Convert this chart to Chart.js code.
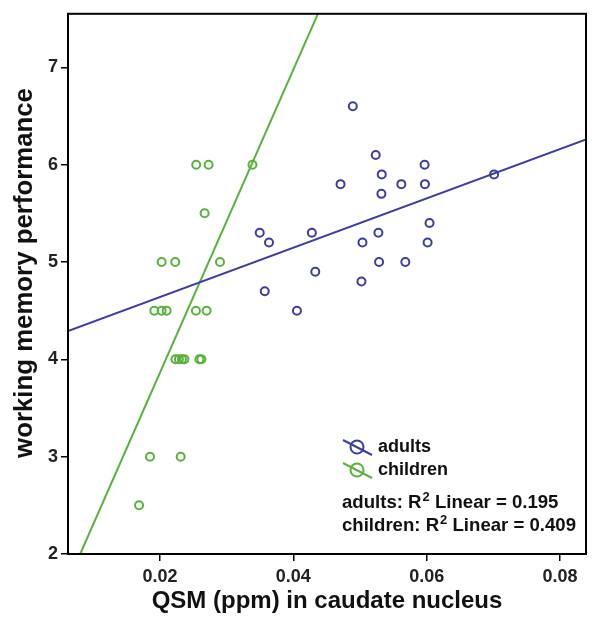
<!DOCTYPE html>
<html>
<head>
<meta charset="utf-8">
<script src="https://cdn.jsdelivr.net/npm/chart.js@4/dist/chart.umd.min.js"></script>
<style>
    html, body { margin: 0; padding: 0; background: #fff; }
    #wrap { width: 592px; height: 621px; }
</style>
</head>
<body>
<div id="wrap"><canvas id="chart" width="592" height="621"></canvas></div>
<script>
// adults (blue)
const adultsX = [0.04892, 0.05236, 0.05969, 0.05326, 0.04708, 0.0562, 0.05974, 0.07011, 0.05321, 0.04278, 0.06043,
    0.05276, 0.05037, 0.06014, 0.05286, 0.0568, 0.04329, 0.05022, 0.03496, 0.03635, 0.03571, 0.04054];
const adultsY = [6.6, 6.1, 6.0, 5.9, 5.8, 5.8, 5.8, 5.9, 5.7, 5.3, 5.4,
    5.3, 5.2, 5.2, 5.0, 5.0, 4.9, 4.8, 5.3, 5.2, 4.7, 4.5];

// children (green)
const childrenX = [0.02025, 0.02229, 0.0290, 0.02543, 0.02729, 0.03387, 0.02669, 0.01915, 0.02025, 0.021, 0.02539,
    0.02699, 0.02232, 0.02284, 0.02329, 0.02366, 0.02591, 0.02621, 0.0185, 0.0231, 0.01686];
const childrenY = [5, 5, 5, 6, 6, 6, 5.5, 4.5, 4.5, 4.5, 4.5,
    4.5, 4, 4, 4, 4, 4, 4, 3, 3, 2.5];

// fit lines (end points)
const adultsFitX = [0.0062, 0.0839];
const adultsFitY = [4.29, 6.26];
const childrenFitX = [0.00803, 0.04368];
const childrenFitY = [2, 7.55];

const xTicks = [0.02, 0.04, 0.06, 0.08];
const yTicks = [2, 3, 4, 5, 6, 7];

const xTitle = 'QSM (ppm) in caudate nucleus';
const yTitle = 'working memory performance';
const legendLabels = ['adults', 'children'];
const fitLabels = ['adults: R', 'children: R'];
const fitValues = ['0.195', '0.409'];

const BLUE = '#3d3da3';
const GREEN = '#58b23c';
const FONT = "'Liberation Sans', Arial, sans-serif";

const toPoints = (xs, ys) => xs.map((x, i) => ({x: x, y: ys[i]}));

const framePlugin = {
    id: 'frame',
    afterDraw(chart) {
        const ctx = chart.ctx;
        const a = chart.chartArea;
        ctx.save();
        ctx.strokeStyle = '#000';
        ctx.lineWidth = 2;
        ctx.strokeRect(a.left, a.top, a.right - a.left, a.bottom - a.top);

        // axis titles
        ctx.fillStyle = '#111';
        ctx.textBaseline = 'middle';
        ctx.textAlign = 'center';
        ctx.font = 'bold 24px ' + FONT;
        ctx.fillText(xTitle, (a.left + a.right) / 2, 601);
        ctx.save();
        ctx.translate(25, 273);
        ctx.rotate(-Math.PI / 2);
        ctx.font = 'bold 25.8px ' + FONT;
        ctx.fillText(yTitle, 0, 0);
        ctx.restore();

        // legend
        ctx.textAlign = 'left';
        const colors = [BLUE, GREEN];
        ctx.font = 'bold 18px ' + FONT;
        legendLabels.forEach((label, i) => {
            const cy = 447 + i * 23;
            const cx = 357;
            ctx.strokeStyle = colors[i];
            ctx.lineWidth = 2;
            ctx.beginPath();
            ctx.arc(cx, cy, 6.5, 0, Math.PI * 2);
            ctx.stroke();
            ctx.beginPath();
            ctx.moveTo(cx - 14, cy - 7);
            ctx.lineTo(cx + 15, cy + 8);
            ctx.stroke();
            ctx.fillText(label, 378, cy);
        });

        // R2 text
        fitLabels.forEach((label, i) => {
            const y = 503 + i * 23;
            let x = 342;
            ctx.font = 'bold 18.6px ' + FONT;
            ctx.fillText(label, x, y);
            x += ctx.measureText(label).width;
            ctx.font = 'bold 13px ' + FONT;
            ctx.fillText('2', x + 1, y - 6);
            x += ctx.measureText('2').width + 1;
            ctx.font = 'bold 18.6px ' + FONT;
            ctx.fillText(' Linear = ' + fitValues[i], x, y);
        });
        ctx.restore();
    }
};

new Chart(document.getElementById('chart'), {
    type: 'scatter',
    data: {
        datasets: [
            {
                label: 'adults',
                data: toPoints(adultsX, adultsY),
                borderColor: BLUE,
                backgroundColor: 'rgba(0,0,0,0)',
                pointRadius: 4,
                borderWidth: 2
            },
            {
                label: 'children',
                data: toPoints(childrenX, childrenY),
                borderColor: GREEN,
                backgroundColor: 'rgba(0,0,0,0)',
                pointRadius: 4,
                borderWidth: 2
            },
            {
                label: 'adults fit',
                data: toPoints(adultsFitX, adultsFitY),
                showLine: true,
                borderColor: BLUE,
                borderWidth: 2,
                pointRadius: 0
            },
            {
                label: 'children fit',
                data: toPoints(childrenFitX, childrenFitY),
                showLine: true,
                borderColor: GREEN,
                borderWidth: 2,
                pointRadius: 0
            }
        ]
    },
    options: {
        responsive: false,
        animation: false,
        layout: {padding: {top: 11, right: 5, left: 0, bottom: 0}},
        plugins: {
            legend: {display: false},
            tooltip: {enabled: false}
        },
        scales: {
            x: {
                type: 'linear',
                min: 0.0062,
                max: 0.0839,
                afterBuildTicks: (scale) => {
                    scale.ticks = xTicks.map(v => ({value: v}));
                },
                afterFit: (scale) => {
                    scale.height = 67;
                },
                grid: {display: true, drawOnChartArea: false, drawTicks: true, tickLength: 7, color: '#000', lineWidth: 1.5},
                border: {display: false},
                ticks: {
                    color: '#222',
                    font: {family: FONT, size: 18, weight: 'bold'},
                    padding: 5,
                    maxRotation: 0,
                    callback: (v) => v.toFixed(2)
                },
                title: {display: false}
            },
            y: {
                type: 'linear',
                min: 2,
                max: 7.55,
                afterBuildTicks: (scale) => {
                    scale.ticks = yTicks.map(v => ({value: v}));
                },
                afterFit: (scale) => {
                    scale.width = 68;
                },
                grid: {display: true, drawOnChartArea: false, drawTicks: true, tickLength: 7, color: '#000', lineWidth: 1.5},
                border: {display: false},
                ticks: {
                    color: '#222',
                    font: {family: FONT, size: 18, weight: 'bold'},
                    padding: 3,
                    callback: (v) => String(v)
                },
                title: {display: false}
            }
        }
    },
    plugins: [framePlugin]
});
</script>
</body>
</html>
